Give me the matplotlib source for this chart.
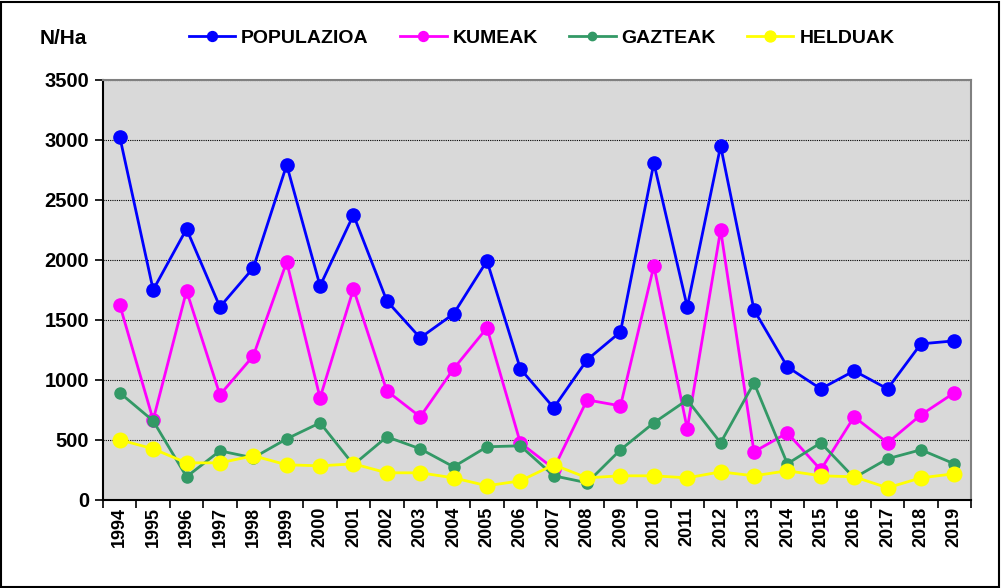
import matplotlib
matplotlib.use("Agg")
import matplotlib.pyplot as plt
from matplotlib.patches import Rectangle
from matplotlib.ticker import MultipleLocator, FixedLocator

plt.rcParams['font.family'] = ['Liberation Sans', 'DejaVu Sans']

years = list(range(1994, 2020))
populazioa = [3025, 1750, 2258, 1608, 1933, 2792, 1783, 2375, 1658, 1350,
              1550, 1992, 1092, 767, 1167, 1400, 2808, 1608, 2950, 1583,
              1108, 925, 1075, 925, 1300, 1325]
kumeak = [1625, 665, 1742, 875, 1200, 1983, 850, 1758, 908, 692,
          1092, 1433, 475, 260, 833, 783, 1950, 592, 2250, 400,
          558, 250, 692, 475, 708, 892]
gazteak = [892, 658, 192, 408, 350, 508, 642, 292, 525, 425,
           275, 442, 450, 200, 142, 417, 642, 833, 475, 975,
           300, 475, 183, 342, 417, 300]
helduak = [500, 425, 308, 308, 367, 292, 283, 300, 225, 225,
           183, 117, 158, 292, 183, 200, 200, 183, 233, 200,
           242, 200, 192, 100, 183, 217]

series = [
    ("POPULAZIOA", populazioa, "#0000FF", 9.5),
    ("KUMEAK", kumeak, "#FF00FF", 9.5),
    ("GAZTEAK", gazteak, "#339966", 8),
    ("HELDUAK", helduak, "#FFFF00", 10.5),
]

fig = plt.figure(figsize=(10.01, 5.88), dpi=100)
ax = fig.add_axes([0.103, 0.150, 0.867, 0.714])
ax.set_facecolor("#D9D9D9")

for name, vals, col, ms in series:
    ax.plot(years, vals, color=col, lw=2.0, marker="o", ms=ms,
            markeredgecolor=col, label=name)

ax.set_ylim(0, 3500)
ax.set_xlim(1993.5, 2019.5)
ax.yaxis.set_major_locator(MultipleLocator(500))
ax.yaxis.grid(True, color="black", linestyle=(0, (1, 1)), lw=0.8)
ax.set_axisbelow(True)

ax.set_xticks(years)
ax.set_xticklabels([str(y) for y in years], rotation=90, fontsize=13,
                   fontweight="bold")
ax.tick_params(axis="x", which="major", length=0, pad=5)
ax.xaxis.set_minor_locator(FixedLocator([y + 0.5 for y in range(1993, 2020)]))
ax.tick_params(axis="x", which="minor", length=6, width=1.2, direction="out")
ax.tick_params(axis="y", length=6, width=1.2, labelsize=14.5, pad=4)
for lab in ax.get_yticklabels():
    lab.set_fontweight("bold")

for side in ("left", "bottom"):
    ax.spines[side].set_color("black")
    ax.spines[side].set_linewidth(1.5)
for side in ("top", "right"):
    ax.spines[side].set_color("#808080")
    ax.spines[side].set_linewidth(1.5)

fig.text(0.063, 0.935, "N/Ha", fontsize=15, fontweight="bold",
         ha="center", va="center")

leg = fig.legend(loc="center", bbox_to_anchor=(0.541, 0.935), ncol=4,
                 frameon=False, prop={"weight": "bold", "size": 14},
                 handlelength=2.4, handletextpad=0.3, columnspacing=1.6,
                 markerscale=0.75)

fig.patches.append(Rectangle((0.001, 0.001), 0.997, 0.996, transform=fig.transFigure,
                             fill=False, edgecolor="black", lw=1.5))

fig.savefig("out.png", dpi=100)
